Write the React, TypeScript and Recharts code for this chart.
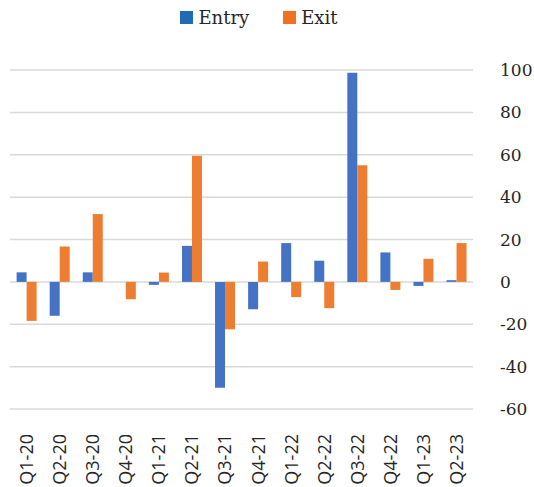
import { ComposedChart, Bar, XAxis, YAxis, CartesianGrid } from 'recharts';

const quarters = [
  'Q1-20', 'Q2-20', 'Q3-20', 'Q4-20', 'Q1-21', 'Q2-21', 'Q3-21',
  'Q4-21', 'Q1-22', 'Q2-22', 'Q3-22', 'Q4-22', 'Q1-23', 'Q2-23',
];
const entry = [4.5, -16, 4.5, 0, -1.4, 17, -50, -12.9, 18.3, 10, 98.7, 13.9, -1.9, 0.8];
const exit = [-18.4, 16.7, 32, -8.2, 4.4, 59.5, -22.4, 9.6, -7.2, -12.4, 55, -3.8, 10.9, 18.3];
const yTicks = [-60, -40, -20, 0, 20, 40, 60, 80, 100];

const data = quarters.map((q, i) => ({ name: q, entry: entry[i], exit: exit[i] }));

const serif = '"DejaVu Serif", serif';

const XTick = ({ x, y, payload }: any) => (
  <text
    transform={`translate(${x},${y + 17}) rotate(-90)`}
    textAnchor="end"
    dy="0.36em"
    fontFamily='"Open Sans", sans-serif'
    fontSize={18}
    fill="#262626"
  >
    {payload.value}
  </text>
);

// tick x already includes the default 6px tick size
const YTick = ({ x, y, payload }: any) => (
  <text x={x + 19} y={y} dy="0.36em" textAnchor="start" fontFamily={serif} fontSize={17} fill="#262626">
    {payload.value}
  </text>
);

const legendItems = [
  { label: 'Entry', color: '#1f6cb6' },
  { label: 'Exit', color: '#f37021' },
];

const App = () => (
  <div style={{ position: 'absolute', left: 0, top: 0, width: 534, height: 487, background: '#fff' }}>
    <div
      style={{
        position: 'absolute',
        top: 7,
        left: 0,
        width: 518,
        display: 'flex',
        justifyContent: 'center',
        gap: 34,
        fontFamily: serif,
        fontSize: 18,
        color: '#262626',
      }}
    >
      {legendItems.map((it) => (
        <div key={it.label} style={{ display: 'flex', alignItems: 'center' }}>
          <span style={{ width: 13, height: 13, background: it.color, marginRight: 5 }} />
          <span>{it.label}</span>
        </div>
      ))}
    </div>
    <ComposedChart
      width={534}
      height={487}
      data={data}
      margin={{ top: 70, right: 0, left: 10, bottom: 0 }}
      barGap={0}
      barCategoryGap="20%"
    >
      <CartesianGrid vertical={false} stroke="#d9d9d9" strokeWidth={1.5} />
      <XAxis
        dataKey="name"
        axisLine={false}
        tickLine={false}
        interval={0}
        height={78}
        tick={<XTick />}
      />
      <YAxis
        orientation="right"
        domain={[-60, 100]}
        ticks={yTicks}
        axisLine={false}
        tickLine={false}
        width={61}
        tick={<YTick />}
      />
      <Bar dataKey="entry" fill="#4472c4" isAnimationActive={false} />
      <Bar dataKey="exit" fill="#ed7d31" isAnimationActive={false} />
    </ComposedChart>
  </div>
);

export default App;
